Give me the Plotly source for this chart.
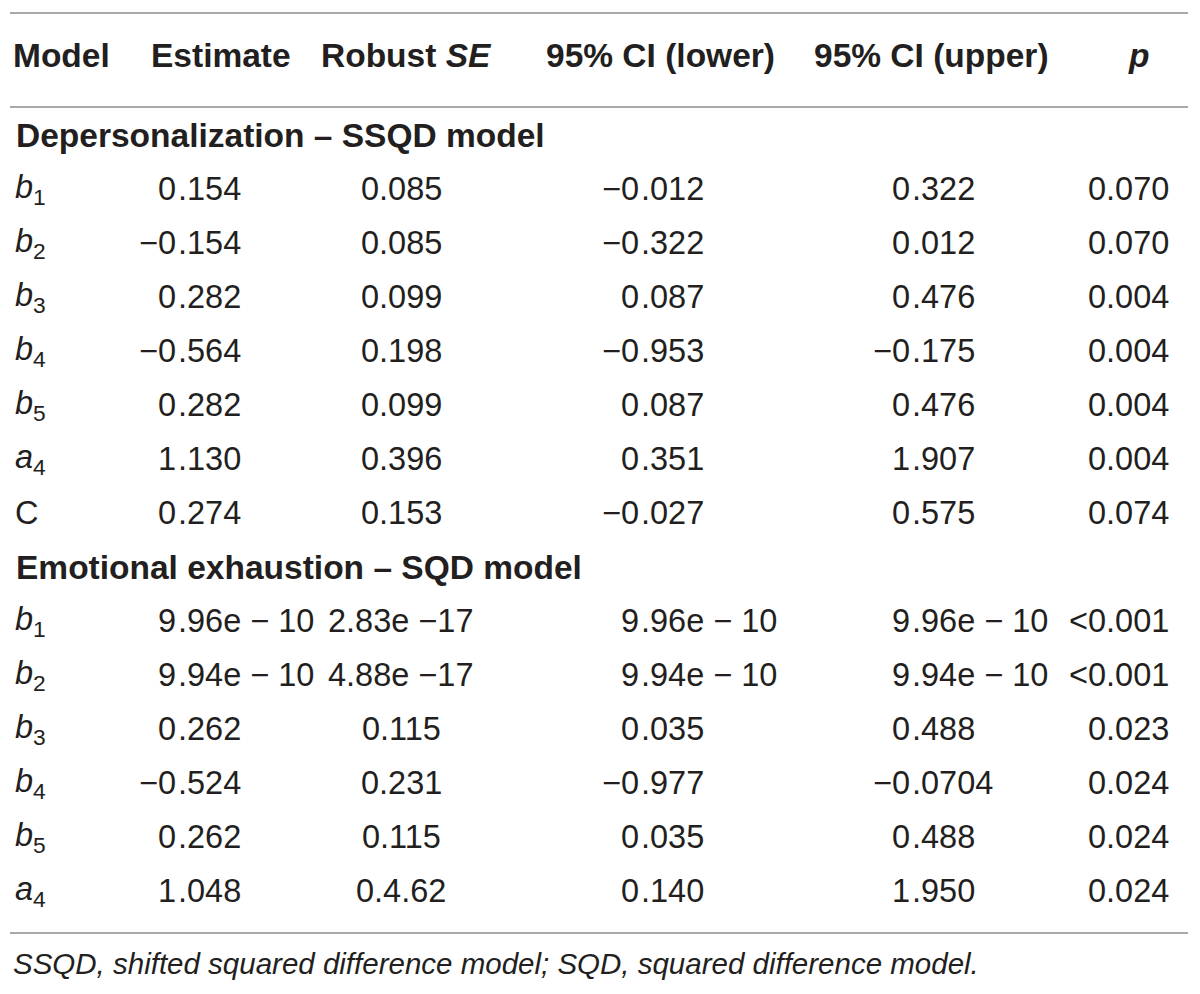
import plotly.graph_objects as go

# column headings
headers = ["Model", "Estimate", "Robust <i>SE</i>", "95% CI (lower)", "95% CI (upper)", "<i>p</i>"]

# Depersonalization – SSQD model
dep_title = "Depersonalization – SSQD model"
dep_terms = [("b", "1"), ("b", "2"), ("b", "3"), ("b", "4"), ("b", "5"), ("a", "4"), ("C", "")]
dep_est = ["0.154", "−0.154", "0.282", "−0.564", "0.282", "1.130", "0.274"]
dep_se = ["0.085", "0.085", "0.099", "0.198", "0.099", "0.396", "0.153"]
dep_lower = ["−0.012", "−0.322", "0.087", "−0.953", "0.087", "0.351", "−0.027"]
dep_upper = ["0.322", "0.012", "0.476", "−0.175", "0.476", "1.907", "0.575"]
dep_p = ["0.070", "0.070", "0.004", "0.004", "0.004", "0.004", "0.074"]

# Emotional exhaustion – SQD model
emo_title = "Emotional exhaustion – SQD model"
emo_terms = [("b", "1"), ("b", "2"), ("b", "3"), ("b", "4"), ("b", "5"), ("a", "4")]
emo_est = ["9.96e − 10", "9.94e − 10", "0.262", "−0.524", "0.262", "1.048"]
emo_se = ["2.83e −17", "4.88e −17", "0.115", "0.231", "0.115", "0.4.62"]
emo_lower = ["9.96e − 10", "9.94e − 10", "0.035", "−0.977", "0.035", "0.140"]
emo_upper = ["9.96e − 10", "9.94e − 10", "0.488", "−0.0704", "0.488", "1.950"]
emo_p = ["<0.001", "<0.001", "0.023", "0.024", "0.024", "0.024"]

footnote = "SSQD, shifted squared difference model; SQD, squared difference model."

INK = "#231f20"
RULE = "#a7a9ac"
FONT = "Liberation Sans"
SIZE = 32.5
BOLD_SIZE = 33.5

# layout of the table, in page pixels (the page body adds an 8px margin)
W, H = 1200, 994
PAD = 8
head_x = [12, 150, 320, 545, 813, 1138]
head_anchor = ["left", "left", "left", "left", "left", "center"]
col_x = [14, 177, 401, 640, 911, 1170]
col_align = ["left", "decimal", "center", "decimal", "decimal", "right"]
head_y = 55
first_row_y = 135
pitch = 54
rules_y = [13, 107, 933]
foot_y = 963


def note(x, y, text, anchor, size=SIZE, bold=False, italic=False):
    if bold:
        text = "<b>" + text + "</b>"
    if italic:
        text = "<i>" + text + "</i>"
    return dict(x=x, y=y, xref="x", yref="y", text=text, showarrow=False,
                xanchor=anchor, yanchor="middle", borderpad=0,
                font=dict(family=FONT, size=size, color=INK))


def term_label(t):
    sym, sub = t
    if sub:
        return "<i>" + sym + "</i><sub>" + sub + "</sub>"
    return sym


def cell_notes(x, y, text, align):
    if align == "decimal":
        i = text.find(".")
        out = []
        if text[:i]:
            out.append(note(x, y, text[:i], "right"))
        out.append(note(x, y, text[i:], "left"))
        return out
    return [note(x, y, text, align)]


annotations = []
for x, a, h in zip(head_x, head_anchor, headers):
    annotations.append(note(x, head_y, h, a, size=BOLD_SIZE, bold=True))

sections = [
    (dep_title, dep_terms, [dep_est, dep_se, dep_lower, dep_upper, dep_p]),
    (emo_title, emo_terms, [emo_est, emo_se, emo_lower, emo_upper, emo_p]),
]

row = 0
for title, terms, cols in sections:
    y = first_row_y + pitch * row
    annotations.append(note(15, y, title, "left", size=BOLD_SIZE, bold=True))
    row += 1
    for k, t in enumerate(terms):
        y = first_row_y + pitch * row
        annotations.append(note(col_x[0], y, term_label(t), "left"))
        for c, vals in enumerate(cols):
            annotations += cell_notes(col_x[c + 1], y, vals[k], col_align[c + 1])
        row += 1

annotations.append(note(12, foot_y, footnote, "left", size=29.5, italic=True))

shapes = [dict(type="line", xref="x", yref="y", x0=10, x1=1188, y0=ry, y1=ry,
               line=dict(color=RULE, width=2)) for ry in rules_y]

fig = go.Figure()
fig.update_layout(
    width=W - 2 * PAD, height=H - 2 * PAD,
    margin=dict(l=0, r=0, t=0, b=0),
    paper_bgcolor="white", plot_bgcolor="white",
    xaxis=dict(range=[PAD, W - PAD], visible=False, fixedrange=True),
    yaxis=dict(range=[H - PAD, PAD], visible=False, fixedrange=True),
    annotations=annotations,
    shapes=shapes,
    showlegend=False,
)

fig.write_html("out.html")
